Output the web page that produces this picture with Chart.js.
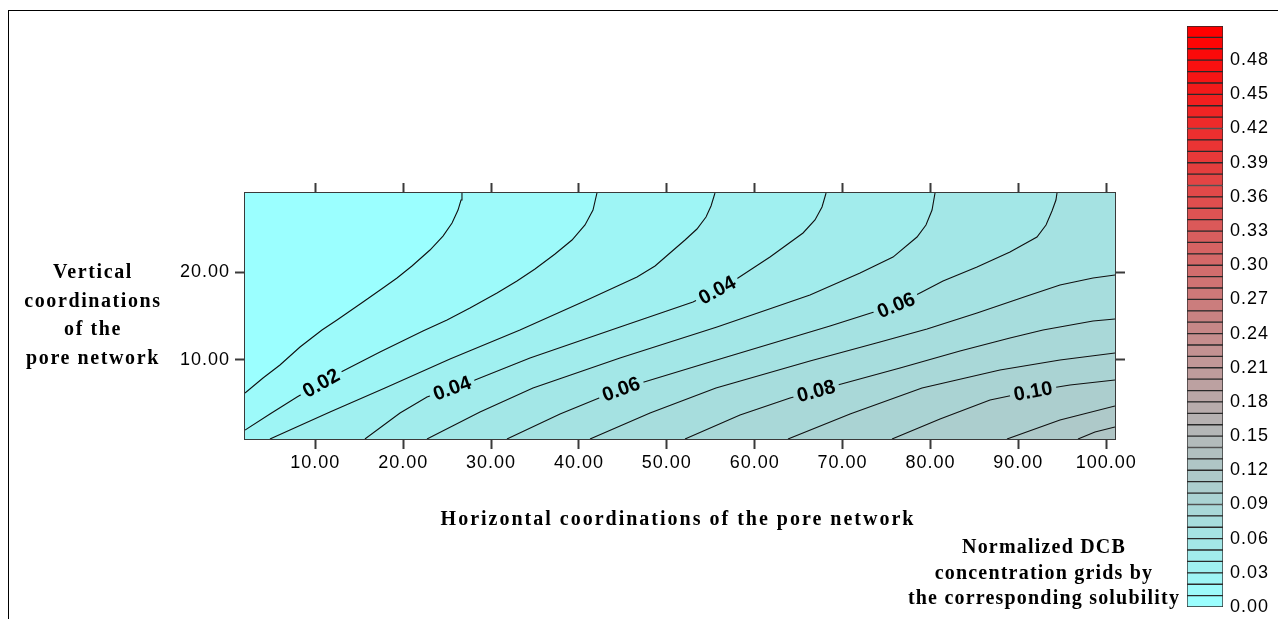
<!DOCTYPE html>
<html lang="en">
<head>
<meta charset="utf-8">
<title>Normalized DCB concentration in the pore network</title>
<script src="https://cdn.jsdelivr.net/npm/chart.js@4.4.1/dist/chart.umd.min.js"></script>
<style>
  html, body { margin: 0; padding: 0; background: #fff; }
  body { position: relative; width: 1278px; height: 619px; overflow: hidden; }
  canvas { position: absolute; top: 0; }
  #plot { left: 0; }
  #scaleBar { left: 1170px; }
  .frame-top { position: absolute; left: 8px; top: 10px; width: 1270px; height: 0; border-top: 1px solid #000; }
  .frame-left { position: absolute; left: 8px; top: 10px; width: 0; height: 609px; border-left: 1px solid #000; }
  .caption { position: absolute; font-family: 'Liberation Serif', 'Times New Roman', serif; font-weight: bold;
             font-size: 20px; color: #000; text-align: center; white-space: nowrap; }
</style>
</head>
<body>
<div class="frame-top"></div>
<div class="frame-left"></div>
<canvas id="plot" width="1278" height="619"></canvas>
<canvas id="scaleBar" width="108" height="619"></canvas>
<div class="caption" style="left:378px; top:507px; width:600px; line-height:23px; letter-spacing:2px;">Horizontal coordinations of the pore network</div>
<div class="caption" style="left:13px; top:257px; width:160px; line-height:28.7px; letter-spacing:1.6px;">Vertical<br>coordinations<br>of the<br>pore network</div>
<div class="caption" style="left:900px; top:534px; width:288px; line-height:25.5px; letter-spacing:1.2px;">Normalized DCB<br>concentration grids by<br>the corresponding solubility</div>

<script>
// ---- axis extents and tick values ----
const xExtent = [2, 101];
const yExtent = [1, 29];
const xTicks = [10, 20, 30, 40, 50, 60, 70, 80, 90, 100];
const yTicks = [10, 20];

// ---- contour levels and the traced iso-lines, [x, y] in grid coordinates ----
const levels = [0.01, 0.02, 0.03, 0.04, 0.05, 0.06, 0.07, 0.08, 0.09, 0.10, 0.11, 0.12];
const contour01 = [[2.00, 6.24], [4.05, 7.94], [5.98, 9.42], [8.26, 11.47], [10.76, 13.41], [12.47, 14.54], [15.43, 16.59],
                   [17.70, 18.19], [19.30, 19.32], [21.00, 20.69], [23.05, 22.51], [24.53, 24.10], [25.56, 25.59],
                   [26.24, 27.06], [26.58, 28.20], [26.69, 29.00]];
const contour02 = [[2.00, 2.02], [4.84, 3.85], [7.92, 5.78], [10.65, 7.37], [13.15, 8.74], [17.36, 10.90], [22.25, 13.29],
                   [24.99, 14.54], [27.60, 15.91], [30.68, 17.62], [32.95, 18.98], [35.00, 20.35], [37.28, 22.06],
                   [39.21, 23.65], [40.69, 25.36], [41.60, 27.06], [42.05, 29.00]];
const contour03 = [[4.84, 1.00], [11.67, 4.07], [17.93, 6.80], [25.33, 10.11], [33.29, 13.41], [40.92, 16.82], [46.61, 19.44],
                   [48.66, 20.69], [50.36, 22.17], [52.07, 23.65], [53.43, 24.90], [54.46, 26.27], [55.03, 27.52],
                   [55.48, 29.00]];
const contour04 = [[15.65, 1.00], [19.64, 3.96], [22.71, 5.78], [25.56, 6.80], [28.17, 7.72], [34.43, 10.22], [44.67, 13.75],
                   [52.98, 16.59], [55.71, 17.96], [58.10, 19.32], [61.74, 21.71], [65.50, 24.45], [66.86, 25.93],
                   [67.66, 27.41], [68.12, 29.00]];
const contour05 = [[22.71, 1.00], [28.74, 4.07], [34.77, 6.80], [44.67, 10.22], [55.71, 13.75], [66.29, 17.39], [71.99, 19.89],
                   [75.74, 21.71], [78.47, 23.99], [79.49, 25.36], [80.18, 27.06], [80.52, 29.00]];
const contour06 = [[31.81, 1.00], [37.85, 3.85], [44.79, 6.69], [53.78, 9.42], [60.60, 11.47], [68.57, 13.86], [76.08, 16.25],
                   [78.81, 17.62], [81.43, 18.98], [85.30, 20.58], [89.05, 22.28], [92.12, 23.99], [93.15, 25.36],
                   [93.83, 26.95], [94.28, 28.20], [94.40, 29.00]];
const contour07 = [[41.26, 1.00], [48.09, 3.96], [55.59, 6.80], [66.29, 9.88], [74.26, 12.04], [79.61, 13.52], [85.30, 15.34],
                   [90.99, 17.28], [94.74, 18.53], [98.50, 19.32], [101.00, 19.67]];
const contour08 = [[52.07, 1.00], [58.33, 3.73], [64.02, 5.67], [70.28, 7.37], [76.54, 9.08], [83.36, 11.02], [89.05, 12.50],
                   [92.81, 13.41], [98.50, 14.43], [101.00, 14.66]];
const contour09 = [[63.79, 1.00], [70.85, 3.85], [79.04, 6.80], [87.91, 8.85], [94.74, 9.99], [101.00, 10.79]];
const contour10 = [[75.63, 1.00], [81.09, 3.28], [86.78, 5.44], [91.67, 6.46], [95.88, 7.15], [101.00, 7.72]];
const contour11 = [[88.71, 1.00], [94.74, 3.16], [101.00, 4.76]];
const contour12 = [[96.79, 1.00], [98.72, 1.80], [101.00, 2.37]];
const contourLines = [contour01, contour02, contour03, contour04, contour05, contour06,
                      contour07, contour08, contour09, contour10, contour11, contour12];

// ---- colour scale: band edges and labelled values ----
const barEdges = [0.00, 0.01, 0.02, 0.03, 0.04, 0.05, 0.06, 0.07, 0.08, 0.09, 0.10, 0.11, 0.12, 0.13, 0.14, 0.15, 0.16,
                  0.17, 0.18, 0.19, 0.20, 0.21, 0.22, 0.23, 0.24, 0.25, 0.26, 0.27, 0.28, 0.29, 0.30, 0.31, 0.32, 0.33,
                  0.34, 0.35, 0.36, 0.37, 0.38, 0.39, 0.40, 0.41, 0.42, 0.43, 0.44, 0.45, 0.46, 0.47, 0.48, 0.49, 0.50, 0.51];
const barTicks = [0.00, 0.03, 0.06, 0.09, 0.12, 0.15, 0.18, 0.21, 0.24, 0.27, 0.30, 0.33, 0.36, 0.39, 0.42, 0.45, 0.48];

// ---- where the level labels sit along their lines (grid x) ----
const labelSpots = [
  { level: 0.02, x: 10.65 }, { level: 0.04, x: 25.56 }, { level: 0.06, x: 44.79 }, { level: 0.08, x: 66.98 },
  { level: 0.10, x: 91.67 }, { level: 0.04, x: 55.71 }, { level: 0.06, x: 76.08 }
];

// ---- presentation ----
const plotArea = { left: 245, top: 193, right: 1115, bottom: 439 };
const canvasSize = { w: 1278, h: 619 };
const axisInk = '#3a3a3a';
const paletteStops = [[0, [155, 255, 255]], [16, [182, 177, 177]], [50, [255, 0, 0]]];

Chart.defaults.font.family = "'Liberation Sans', Arial, sans-serif";
Chart.defaults.color = '#000';

function bandColor(i) {
  for (let s = 0; s < paletteStops.length - 1; s++) {
    const [i0, c0] = paletteStops[s], [i1, c1] = paletteStops[s + 1];
    if (i <= i1) {
      const t = (i - i0) / (i1 - i0);
      const c = c0.map((v, k) => Math.round(v + (c1[k] - v) * t));
      return `rgb(${c[0]},${c[1]},${c[2]})`;
    }
  }
  const c = paletteStops[paletteStops.length - 1][1];
  return `rgb(${c[0]},${c[1]},${c[2]})`;
}

const toPoints = arr => arr.map(([x, y]) => ({ x, y }));

// filled bands: each level paints everything on its high-value side, lowest level first
const datasets = [{
  role: 'fill', data: toPoints([[xExtent[0], yExtent[1]], [xExtent[1], yExtent[1]]]),
  fill: 'start', backgroundColor: bandColor(0), borderColor: 'transparent', borderWidth: 0, pointRadius: 0, order: 200
}];
levels.forEach((lv, k) => {
  const pts = contourLines[k].slice();
  const last = pts[pts.length - 1];
  if (last[1] >= yExtent[1] && last[0] < xExtent[1]) pts.push([xExtent[1], yExtent[1]]);
  datasets.push({
    role: 'fill', level: lv, data: toPoints(pts), fill: 'start', backgroundColor: bandColor(k + 1),
    borderColor: 'transparent', borderWidth: 0, pointRadius: 0, order: 100 - k
  });
});
levels.forEach((lv, k) => {
  datasets.push({
    role: 'stroke', level: lv, data: toPoints(contourLines[k]), fill: false,
    borderColor: '#101010', borderWidth: 1.1, pointRadius: 0, order: 0
  });
});

function frameAxis(axis, position, values, extent, showLabels, size, pad) {
  return {
    type: 'linear', axis, position, min: extent[0], max: extent[1],
    afterBuildTicks: s => { s.ticks = values.map(v => ({ value: v })); },
    afterFit: s => {
      if (s.isHorizontal()) s.height = size; else s.width = size;
      s.paddingTop = s.paddingBottom = s.paddingLeft = s.paddingRight = 0;
    },
    grid: { drawOnChartArea: false, drawTicks: true, tickLength: 10, tickWidth: 2, tickColor: axisInk },
    border: { display: true, color: axisInk, width: 2 },
    ticks: {
      display: showLabels, autoSkip: false, maxRotation: 0, padding: pad, color: '#000',
      font: { size: 18 }, callback: v => Number(v).toFixed(2)
    }
  };
}

const spacedText = { id: 'spacedText', beforeDraw(chart) { chart.ctx.letterSpacing = '1px'; } };

// level labels: position and angle follow the line through the x scale / y scale
function labelBoxes(chart) {
  const xs = chart.scales.x, ys = chart.scales.y, ctx = chart.ctx;
  ctx.save();
  ctx.letterSpacing = '0px';
  ctx.font = "bold 20px 'Liberation Sans', Arial, sans-serif";
  const out = labelSpots.map(spot => {
    const k = levels.findIndex(l => Math.abs(l - spot.level) < 1e-9);
    const px = contourLines[k].map(([x, y]) => [xs.getPixelForValue(x), ys.getPixelForValue(y)]);
    const yAt = X => {
      for (let i = 0; i < px.length - 1; i++) {
        const [x0, y0] = px[i], [x1, y1] = px[i + 1];
        if (X >= x0 && X <= x1 && x1 > x0) return y0 + (y1 - y0) * (X - x0) / (x1 - x0);
      }
      return X < px[0][0] ? px[0][1] : px[px.length - 1][1];
    };
    const cx = xs.getPixelForValue(spot.x), cy = yAt(cx);
    const a = Math.atan2(yAt(cx + 16) - yAt(cx - 16), 32);
    const text = spot.level.toFixed(2);
    const w = ctx.measureText(text).width + 8;
    return { x: cx, y: cy, a, w, h: 17, text };
  });
  ctx.restore();
  return out;
}

const contourLabels = {
  id: 'contourLabels',
  beforeDatasetDraw(chart, args) {
    if (chart.data.datasets[args.index].role !== 'stroke') return;
    const ctx = chart.ctx;
    ctx.save();
    ctx.beginPath();
    ctx.rect(0, 0, chart.width, chart.height);
    labelBoxes(chart).forEach(b => {
      const c = Math.cos(b.a), s = Math.sin(b.a), hw = b.w / 2, hh = b.h / 2;
      const pts = [[-hw, -hh], [hw, -hh], [hw, hh], [-hw, hh]].map(([u, v]) => [b.x + u * c - v * s, b.y + u * s + v * c]);
      ctx.moveTo(pts[0][0], pts[0][1]);
      for (let i = 1; i < 4; i++) ctx.lineTo(pts[i][0], pts[i][1]);
      ctx.closePath();
    });
    ctx.clip('evenodd');
  },
  afterDatasetDraw(chart, args) {
    if (chart.data.datasets[args.index].role === 'stroke') chart.ctx.restore();
  },
  afterDatasetsDraw(chart) {
    const ctx = chart.ctx;
    labelBoxes(chart).forEach(b => {
      ctx.save();
      ctx.letterSpacing = '0px';
      ctx.translate(b.x, b.y);
      ctx.rotate(b.a);
      ctx.font = "bold 20px 'Liberation Sans', Arial, sans-serif";
      ctx.fillStyle = '#000';
      ctx.textAlign = 'center';
      ctx.textBaseline = 'middle';
      ctx.fillText(b.text, 0, 1);
      ctx.restore();
    });
  }
};

new Chart(document.getElementById('plot'), {
  type: 'line',
  data: { datasets },
  options: {
    responsive: false, animation: false, events: [],
    layout: { padding: 0 },
    plugins: { legend: { display: false }, tooltip: { enabled: false } },
    elements: { line: { tension: 0 } },
    scales: {
      x: frameAxis('x', 'bottom', xTicks, xExtent, true, canvasSize.h - plotArea.bottom, 3),
      x2: frameAxis('x', 'top', xTicks, xExtent, false, plotArea.top, 0),
      y: frameAxis('y', 'left', yTicks, yExtent, true, plotArea.left, 5),
      y2: frameAxis('y', 'right', yTicks, yExtent, false, canvasSize.w - plotArea.right, 0)
    }
  },
  plugins: [spacedText, contourLabels]
});

// colour scale: one floating bar per band, stacked along the value axis
const barDatasets = barEdges.slice(0, -1).map((lo, i) => ({
  data: [[lo, barEdges[i + 1]]], backgroundColor: bandColor(i), borderColor: '#2a2a2a', borderWidth: 1,
  borderSkipped: false, grouped: false, barPercentage: 1, categoryPercentage: 1
}));

new Chart(document.getElementById('scaleBar'), {
  type: 'bar',
  data: { labels: [''], datasets: barDatasets },
  options: {
    responsive: false, animation: false, events: [],
    layout: { padding: { left: 17, top: 26, bottom: 12, right: 0 } },
    plugins: { legend: { display: false }, tooltip: { enabled: false } },
    scales: {
      x: { display: false },
      y: {
        position: 'right', min: barEdges[0], max: barEdges[barEdges.length - 1],
        afterBuildTicks: s => { s.ticks = barTicks.map(v => ({ value: v })); },
        afterFit: s => { s.width = 55; s.paddingTop = s.paddingBottom = 0; },
        grid: { display: false, drawTicks: false },
        border: { display: false },
        ticks: { padding: 7, color: '#000', font: { size: 18 }, callback: v => Number(v).toFixed(2) }
      }
    }
  },
  plugins: [spacedText]
});
</script>
</body>
</html>
